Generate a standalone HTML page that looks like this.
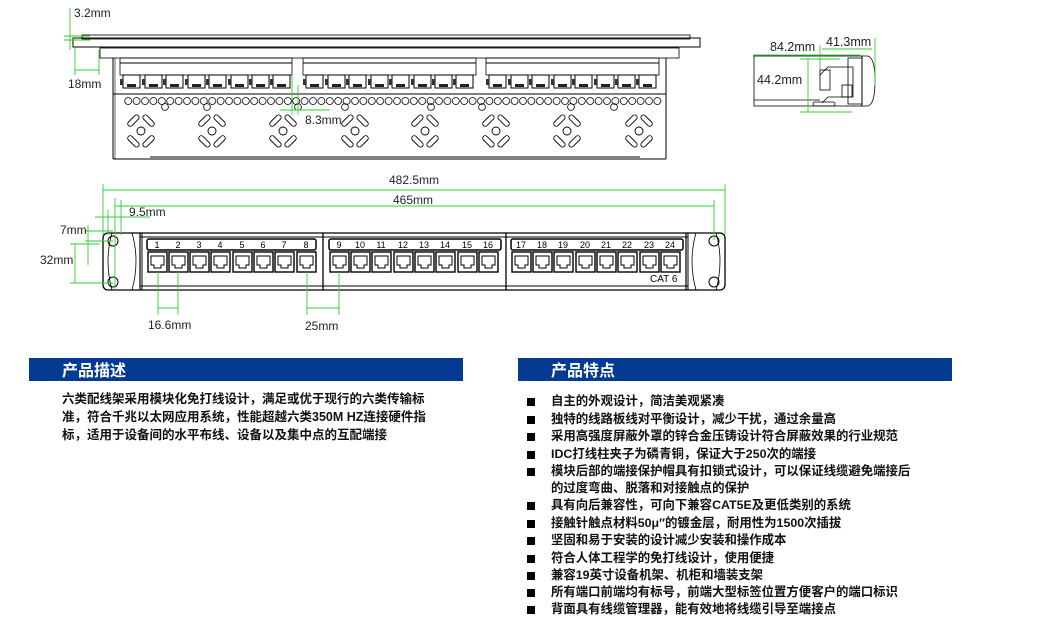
<!DOCTYPE html>
<html><head><meta charset="utf-8"><style>
body{margin:0;width:1056px;height:623px;background:#fff;position:relative;overflow:hidden;font-family:"Liberation Sans","Noto Sans CJK SC",sans-serif}
svg{position:absolute;left:0;top:0}
.hd{position:absolute;height:23px;background:#033a92;color:#fff;font-weight:bold;font-size:16px;line-height:23px;font-family:"Noto Sans CJK SC",sans-serif}
.p{position:absolute;font-size:12.5px;line-height:18px;color:#111;font-family:"Liberation Sans","Noto Sans CJK SC",sans-serif;font-weight:bold;white-space:nowrap}
.li{position:absolute;left:527px;font-size:12.4px;color:#111;font-weight:bold;font-family:"Liberation Sans","Noto Sans CJK SC",sans-serif;white-space:nowrap}
.li b{display:inline-block;width:8px;height:8px;background:#000;margin-right:16px;vertical-align:-1px}
</style></head><body>
<svg width="1056" height="623" viewBox="0 0 1056 623">
<defs>
<g id="tp"><rect x="0" y="0" width="17" height="13" fill="#fff" stroke="#000" stroke-width="1"/><rect x="-3" y="4" width="3" height="6" fill="#333"/><rect x="4" y="9" width="9" height="3" fill="#222"/></g>
<pattern id="cp" x="124" y="96" width="8.4" height="10" patternUnits="userSpaceOnUse"><circle cx="4.2" cy="5" r="3.5" fill="none" stroke="#000" stroke-width="0.8"/></pattern>
<g id="cir"><circle cx="0" cy="0" r="3.4" fill="none" stroke="#000" stroke-width="0.8"/></g>
<g id="dia" fill="none" stroke="#000" stroke-width="0.9">
<circle cx="0" cy="0" r="4"/>
<rect x="-2.5" y="-9" width="5" height="14" rx="2.5" transform="translate(-9,-9) rotate(45)"/>
<rect x="-2.5" y="-9" width="5" height="14" rx="2.5" transform="translate(9,-9) rotate(-45)"/>
<rect x="-2.5" y="-5" width="5" height="14" rx="2.5" transform="translate(-9,9) rotate(-45)"/>
<rect x="-2.5" y="-5" width="5" height="14" rx="2.5" transform="translate(9,9) rotate(45)"/>
</g>
<g id="fp"><rect x="0" y="0" width="19" height="20" fill="#fff" stroke="#000" stroke-width="1.4"/><path d="M3 4h13v9h-3v3h-7v-3h-3z" fill="none" stroke="#000" stroke-width="1"/></g>
</defs>
<!-- TOP VIEW -->
<g fill="none" stroke="#000">
<rect x="73" y="38" width="627" height="9" stroke-width="1"/>
<rect x="82" y="35" width="608" height="4" stroke-width="0.8"/>
<rect x="100" y="48" width="579" height="10" stroke-width="0.8"/>
<line x1="113" y1="58" x2="113" y2="159" stroke-width="1"/><line x1="115" y1="58" x2="115" y2="159" stroke-width="0.6"/>
<line x1="666" y1="58" x2="666" y2="159" stroke-width="1"/>
<line x1="113" y1="94" x2="666" y2="94" stroke-width="1"/>
<line x1="113" y1="159" x2="666" y2="159" stroke-width="1"/>
<line x1="150" y1="157" x2="640" y2="157" stroke-width="1"/>
<rect x="120" y="58" width="172" height="17" stroke-width="0.8"/>
<rect x="303" y="58" width="173" height="17" stroke-width="0.8"/>
<rect x="486" y="58" width="173" height="17" stroke-width="0.8"/>
<line x1="120" y1="63" x2="292" y2="63"/><line x1="303" y1="63" x2="476" y2="63"/><line x1="486" y1="63" x2="659" y2="63"/>
</g>
<g>
<use href="#tp" x="123" y="75"/><use href="#tp" x="145" y="75"/><use href="#tp" x="166" y="75"/><use href="#tp" x="188" y="75"/><use href="#tp" x="209" y="75"/><use href="#tp" x="231" y="75"/><use href="#tp" x="252" y="75"/><use href="#tp" x="273" y="75"/>
<use href="#tp" x="306" y="75"/><use href="#tp" x="328" y="75"/><use href="#tp" x="349" y="75"/><use href="#tp" x="371" y="75"/><use href="#tp" x="392" y="75"/><use href="#tp" x="414" y="75"/><use href="#tp" x="435" y="75"/><use href="#tp" x="456" y="75"/>
<use href="#tp" x="489" y="75"/><use href="#tp" x="511" y="75"/><use href="#tp" x="532" y="75"/><use href="#tp" x="554" y="75"/><use href="#tp" x="575" y="75"/><use href="#tp" x="597" y="75"/><use href="#tp" x="618" y="75"/><use href="#tp" x="639" y="75"/>
</g>
<rect x="124" y="96" width="538" height="10" fill="url(#cp)"/>
<g>
<use href="#cir" x="165" y="107"/><use href="#cir" x="207" y="107"/><use href="#cir" x="298" y="107"/><use href="#cir" x="345" y="107"/><use href="#cir" x="431" y="107"/><use href="#cir" x="482" y="107"/><use href="#cir" x="571" y="107"/><use href="#cir" x="614" y="107"/>
</g>
<use href="#dia" x="141" y="131"/><use href="#dia" x="212" y="131"/><use href="#dia" x="283" y="131"/><use href="#dia" x="355" y="131"/><use href="#dia" x="425" y="131"/><use href="#dia" x="496" y="131"/><use href="#dia" x="567" y="131"/><use href="#dia" x="639" y="131"/>
<g stroke="#3c3" stroke-width="0.9" fill="none">
<line x1="70" y1="8" x2="70" y2="50"/><line x1="64" y1="36" x2="90" y2="36"/><line x1="64" y1="40" x2="90" y2="40"/>
<line x1="75" y1="48" x2="75" y2="75"/><line x1="99" y1="50" x2="99" y2="75"/><line x1="75" y1="70" x2="99" y2="70"/>
<line x1="292" y1="75" x2="292" y2="115"/><line x1="298" y1="85" x2="298" y2="115"/><line x1="280" y1="110" x2="330" y2="110"/>
</g>
<g font-size="12" fill="#222">
<text x="74" y="17">3.2mm</text><text x="68" y="88">18mm</text><text x="305" y="124">8.3mm</text>
</g>
<!-- SIDE VIEW -->
<g fill="none" stroke="#000" stroke-width="0.8">
<rect x="754" y="56" width="108" height="50"/>
<line x1="754" y1="100" x2="820" y2="100"/>
<path d="M862 56 h6 q7 2 7 25 q0 23 -7 25 h-6z"/>
<rect x="848" y="58" width="14" height="46"/>
<path d="M820 75 l8 -8 h25 v30 h-25 l-6 6"/>
<rect x="820" y="70" width="10" height="20"/>
<rect x="842" y="85" width="10" height="12"/>
<rect x="813" y="102" width="22" height="4" rx="2"/>
</g>
<g stroke="#3c3" stroke-width="0.9" fill="none">
<line x1="753" y1="55" x2="860" y2="55"/><line x1="808" y1="58" x2="808" y2="112"/><line x1="800" y1="59" x2="840" y2="59"/><line x1="800" y1="112" x2="852" y2="112"/>
<line x1="820" y1="45" x2="820" y2="70"/><line x1="875" y1="38" x2="875" y2="85"/><line x1="822" y1="49" x2="872" y2="49"/>
</g>
<g font-size="12.5" fill="#222"><text x="770" y="51">84.2mm</text><text x="826" y="46">41.3mm</text><text x="757" y="84">44.2mm</text></g>
<!-- FRONT VIEW -->
<g fill="none" stroke="#000">
<rect x="103" y="233" width="622" height="57" rx="5" stroke-width="1.3"/>
<line x1="140" y1="233" x2="140" y2="290" stroke-width="1.2"/><line x1="142" y1="233" x2="142" y2="290"/>
<line x1="686" y1="233" x2="686" y2="290" stroke-width="1.2"/><line x1="688" y1="233" x2="688" y2="290"/>
<line x1="140" y1="237" x2="688" y2="237"/><line x1="140" y1="286" x2="688" y2="286"/>
<line x1="323" y1="233" x2="323" y2="290" stroke-width="1.3"/><line x1="506" y1="233" x2="506" y2="290" stroke-width="1.3"/>
<path d="M112 233 q-8 28 0 57 M132 233 q8 28 0 57" stroke-width="0.8"/>
<path d="M696 233 q-8 28 0 57 M716 233 q8 28 0 57" stroke-width="0.8"/>
<circle cx="113" cy="241" r="5"/><circle cx="113" cy="282" r="5"/><circle cx="714" cy="241" r="5"/><circle cx="714" cy="282" r="5"/>
<rect x="147" y="239" width="169" height="11" rx="2" stroke-width="1.5"/>
<rect x="329" y="239" width="172" height="11" rx="2" stroke-width="1.5"/>
<rect x="511" y="239" width="172" height="11" rx="2" stroke-width="1.5"/>
</g>
<g>
<use href="#fp" x="148" y="252"/><use href="#fp" x="169" y="252"/><use href="#fp" x="190" y="252"/><use href="#fp" x="211" y="252"/><use href="#fp" x="233" y="252"/><use href="#fp" x="254" y="252"/><use href="#fp" x="275" y="252"/><use href="#fp" x="297" y="252"/>
<use href="#fp" x="330" y="252"/><use href="#fp" x="351" y="252"/><use href="#fp" x="372" y="252"/><use href="#fp" x="394" y="252"/><use href="#fp" x="415" y="252"/><use href="#fp" x="436" y="252"/><use href="#fp" x="458" y="252"/><use href="#fp" x="479" y="252"/>
<use href="#fp" x="512" y="252"/><use href="#fp" x="533" y="252"/><use href="#fp" x="554" y="252"/><use href="#fp" x="576" y="252"/><use href="#fp" x="597" y="252"/><use href="#fp" x="618" y="252"/><use href="#fp" x="640" y="252"/><use href="#fp" x="661" y="252"/>
</g>
<g font-size="9" fill="#000" text-anchor="middle">
<text x="157" y="248">1</text><text x="178" y="248">2</text><text x="199" y="248">3</text><text x="220" y="248">4</text><text x="242" y="248">5</text><text x="263" y="248">6</text><text x="284" y="248">7</text><text x="306" y="248">8</text>
<text x="339" y="248">9</text><text x="360" y="248">10</text><text x="381" y="248">11</text><text x="403" y="248">12</text><text x="424" y="248">13</text><text x="445" y="248">14</text><text x="467" y="248">15</text><text x="488" y="248">16</text>
<text x="521" y="248">17</text><text x="542" y="248">18</text><text x="563" y="248">19</text><text x="585" y="248">20</text><text x="606" y="248">21</text><text x="627" y="248">22</text><text x="649" y="248">23</text><text x="670" y="248">24</text>
</g>
<text x="650" y="282" font-size="10" fill="#000">CAT 6</text>
<g stroke="#3c3" stroke-width="0.9" fill="none">
<line x1="103" y1="184" x2="103" y2="235"/><line x1="725" y1="184" x2="725" y2="235"/><line x1="103" y1="190" x2="725" y2="190"/>
<line x1="115" y1="198" x2="115" y2="290"/><line x1="714" y1="200" x2="714" y2="240"/><line x1="115" y1="206" x2="714" y2="206"/>
<line x1="108" y1="210" x2="108" y2="235"/><line x1="121" y1="200" x2="121" y2="235"/><line x1="95" y1="217" x2="150" y2="217"/>
<line x1="85" y1="231" x2="113" y2="231"/><line x1="85" y1="241" x2="113" y2="241"/><line x1="88" y1="225" x2="88" y2="265"/>
<line x1="75" y1="244" x2="75" y2="283"/><line x1="70" y1="283" x2="113" y2="283"/><line x1="70" y1="244" x2="100" y2="244"/>
<line x1="158" y1="272" x2="158" y2="315"/><line x1="178" y1="272" x2="178" y2="315"/><line x1="158" y1="308" x2="178" y2="308"/>
<line x1="307" y1="272" x2="307" y2="315"/><line x1="339" y1="272" x2="339" y2="315"/><line x1="307" y1="308" x2="339" y2="308"/>
</g>
<g font-size="12" fill="#222">
<text x="389" y="184">482.5mm</text><text x="393" y="204">465mm</text><text x="129" y="216">9.5mm</text>
<text x="60" y="234">7mm</text><text x="40" y="264">32mm</text><text x="148" y="329">16.6mm</text><text x="305" y="330">25mm</text>
</g>
</svg>
<div class="hd" style="left:29px;top:358px;width:434px;padding-left:33px;box-sizing:border-box">产品描述</div>
<div class="hd" style="left:518px;top:358px;width:434px;padding-left:33px;box-sizing:border-box">产品特点</div>
<div class="p" style="left:62px;top:390px;width:400px">六类配线架采用模块化免打线设计，满足或优于现行的六类传输标<br>准，符合千兆以太网应用系统，性能超越六类350M HZ连接硬件指<br>标，适用于设备间的水平布线、设备以及集中点的互配端接</div>
<div class="li" style="top:391px"><b></b>自主的外观设计，简洁美观紧凑</div>
<div class="li" style="top:409px"><b></b>独特的线路板线对平衡设计，减少干扰，通过余量高</div>
<div class="li" style="top:426px"><b></b>采用高强度屏蔽外罩的锌合金压铸设计符合屏蔽效果的行业规范</div>
<div class="li" style="top:444px"><b></b>IDC打线柱夹子为磷青铜，保证大于250次的端接</div>
<div class="li" style="top:461px"><b></b>模块后部的端接保护帽具有扣锁式设计，可以保证线缆避免端接后</div>
<div class="li" style="top:478px;left:551px">的过度弯曲、脱落和对接触点的保护</div>
<div class="li" style="top:495px"><b></b>具有向后兼容性，可向下兼容CAT5E及更低类别的系统</div>
<div class="li" style="top:513px"><b></b>接触针触点材料50μ″的镀金层，耐用性为1500次插拔</div>
<div class="li" style="top:530px"><b></b>坚固和易于安装的设计减少安装和操作成本</div>
<div class="li" style="top:548px"><b></b>符合人体工程学的免打线设计，使用便捷</div>
<div class="li" style="top:565px"><b></b>兼容19英寸设备机架、机柜和墙装支架</div>
<div class="li" style="top:582px"><b></b>所有端口前端均有标号，前端大型标签位置方便客户的端口标识</div>
<div class="li" style="top:599px"><b></b>背面具有线缆管理器，能有效地将线缆引导至端接点</div>
</body></html>
